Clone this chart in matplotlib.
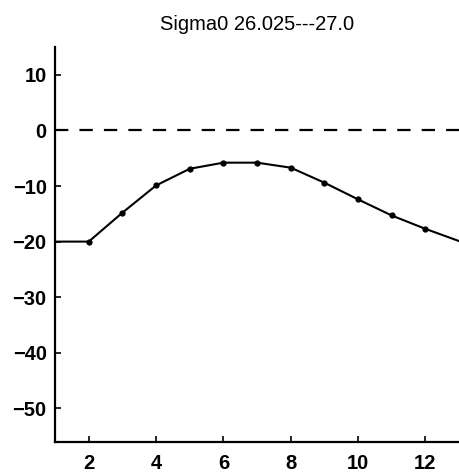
import matplotlib
matplotlib.use("Agg")
import matplotlib.pyplot as plt

plt.rcParams['font.family'] = ['Liberation Sans', 'DejaVu Sans']

x = [1, 2, 3, 4, 5, 6, 7, 8, 9, 10, 11, 12, 13]
y = [-20.0, -20.0, -14.8, -9.9, -6.9, -5.8, -5.8, -6.7, -9.4, -12.4, -15.3, -17.7, -19.9]
title = "Sigma0 26.025---27.0"
xticks = [2, 4, 6, 8, 10, 12]
yticks = [10, 0, -10, -20, -30, -40, -50]

fig = plt.figure(figsize=(4.59, 4.75), dpi=100)
ax = fig.add_axes([0.12, 0.07, 0.88, 0.831])

ax.axhline(0, color='black', lw=1.6, ls=(0, (6, 5)))
ax.plot(x, y, color='black', lw=1.5)
ax.plot(x[1:-1], y[1:-1], 'o', color='black', ms=3.5)

ax.set_xlim(1, 13)
ax.set_ylim(-56, 15)
ax.set_xticks(xticks)
ax.set_yticks(yticks)
ax.set_yticklabels([str(v).replace('-', '\u2212') for v in yticks], fontweight='bold')
ax.set_xticklabels([str(v) for v in xticks], fontweight='bold')
ax.tick_params(direction='in', length=4, width=1.2, labelsize=14.5)
ax.tick_params(axis='x', pad=9)
ax.tick_params(axis='y', pad=6)
for s in ['top', 'right']:
    ax.spines[s].set_visible(False)
for s in ['left', 'bottom']:
    ax.spines[s].set_linewidth(1.6)
ax.set_title(title, fontsize=14.5, pad=12)

fig.savefig('out.png', dpi=100)
